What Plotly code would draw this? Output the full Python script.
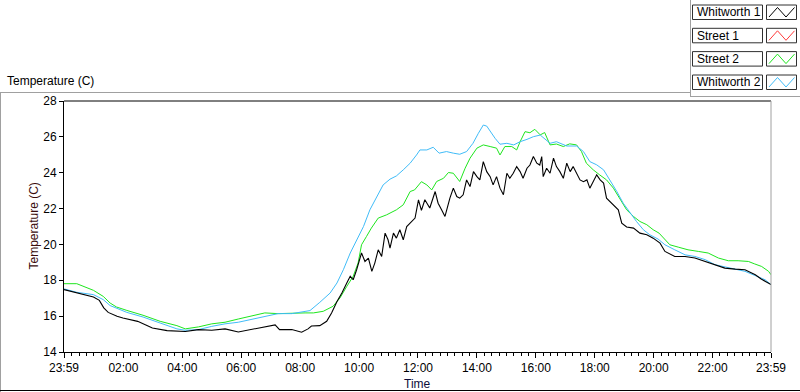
import plotly.graph_objects as go

# ---------------- data (minutes after 23:59 start, temperature in C) ----------------
w1_min = [0, 26, 60, 72, 81, 90, 108, 120, 150, 180, 210, 247, 274, 301, 328, 355, 382, 409, 430, 439,
          464, 484, 497, 504, 521, 535, 545, 556, 566, 576, 583, 589, 596, 606, 613, 620, 627, 633, 640, 647,
          654, 660, 664, 671, 677, 684, 691, 698, 708, 715, 722, 728, 735, 745, 756, 762, 769, 776, 786, 793,
          800, 806, 813, 820, 827, 834, 841, 847, 854, 861, 868, 874, 881, 888, 895, 902, 908, 915, 922, 929,
          935, 943, 949, 956, 963, 969, 973, 976, 983, 990, 997, 1003, 1010, 1017, 1024, 1031, 1037, 1044, 1051, 1058,
          1065, 1071, 1078, 1085, 1092, 1099, 1105, 1119, 1129, 1136, 1146, 1160, 1173, 1187, 1200, 1214, 1224, 1244, 1265, 1285,
          1306, 1326, 1346, 1367, 1387, 1408, 1420, 1440]
w1_temp = [17.48, 17.29, 17.07, 16.88, 16.46, 16.21, 15.99, 15.90, 15.71, 15.34, 15.19, 15.14, 15.25, 15.21, 15.29, 15.12, 15.25, 15.38, 15.51, 15.25,
           15.25, 15.10, 15.29, 15.45, 15.47, 15.71, 16.18, 16.82, 17.29, 17.85, 18.22, 18.03, 18.59, 19.52, 19.05, 19.24, 18.50, 18.96, 19.70, 19.33,
           20.63, 20.26, 19.80, 20.63, 20.35, 20.82, 20.26, 21.00, 21.28, 21.47, 22.49, 21.90, 22.49, 22.03, 22.95, 22.30, 21.93, 21.56, 22.58, 23.14,
           22.67, 22.58, 22.77, 23.60, 23.23, 24.06, 23.78, 23.60, 24.62, 24.06, 23.78, 23.32, 23.78, 23.14, 22.77, 23.97, 23.69, 23.97, 24.34, 24.06,
           23.69, 24.25, 24.43, 24.90, 24.53, 24.43, 24.90, 23.78, 24.25, 23.97, 24.81, 24.34, 24.06, 23.69, 24.53, 24.06, 24.34, 23.97, 23.60, 23.50,
           23.60, 23.14, 23.50, 23.88, 23.60, 23.42, 22.58, 22.21, 21.93, 21.19, 20.97, 20.91, 20.63, 20.54, 20.35, 20.07, 19.61, 19.33, 19.33, 19.24,
           19.05, 18.87, 18.68, 18.62, 18.59, 18.31, 18.07, 17.76]

s1_min = []
s1_temp = []

s2_min = [0, 26, 60, 80, 94, 107, 128, 161, 196, 230, 247, 274, 301, 328, 355, 382, 409, 436, 464, 491,
          508, 528, 548, 562, 576, 589, 599, 606, 616, 626, 640, 657, 677, 691, 705, 714, 728, 739, 749, 759,
          773, 783, 793, 806, 817, 827, 841, 854, 868, 881, 888, 898, 912, 922, 929, 939, 949, 959, 970, 979,
          990, 1003, 1017, 1030, 1044, 1054, 1064, 1078, 1091, 1105, 1119, 1133, 1146, 1160, 1173, 1187, 1200, 1212, 1224, 1234,
          1251, 1271, 1292, 1312, 1333, 1353, 1373, 1394, 1406, 1421, 1435, 1440]
s2_temp = [17.81, 17.81, 17.44, 17.10, 16.73, 16.51, 16.32, 16.05, 15.71, 15.47, 15.29, 15.40, 15.57, 15.66, 15.84, 16.03, 16.18, 16.14, 16.18, 16.18,
           16.18, 16.27, 16.55, 17.01, 17.66, 18.22, 18.96, 19.98, 20.44, 20.91, 21.47, 21.65, 21.93, 22.21, 22.95, 23.04, 23.50, 23.32, 23.04, 23.51,
           23.69, 24.01, 23.97, 23.51, 24.25, 24.81, 25.37, 25.55, 25.46, 25.37, 24.99, 25.46, 25.46, 25.27, 25.73, 26.29, 26.23, 26.42, 26.11, 26.24,
           25.55, 25.60, 25.46, 25.61, 25.55, 25.18, 24.53, 24.16, 23.88, 23.60, 23.14, 22.49, 21.93, 21.56, 21.28, 21.10, 20.82, 20.63, 20.26, 19.98,
           19.85, 19.70, 19.61, 19.52, 19.24, 19.09, 19.09, 19.05, 18.92, 18.77, 18.50, 18.31]

w2_min = [0, 26, 60, 80, 94, 114, 128, 161, 196, 230, 247, 274, 301, 328, 355, 382, 409, 436, 464, 481,
          501, 521, 542, 556, 569, 583, 596, 610, 623, 637, 650, 664, 677, 691, 705, 718, 725, 739, 752, 764,
          779, 793, 806, 820, 833, 844, 854, 861, 868, 878, 888, 902, 916, 929, 943, 956, 970, 990, 1003, 1024,
          1044, 1058, 1071, 1085, 1099, 1112, 1126, 1139, 1153, 1166, 1180, 1193, 1210, 1224, 1244, 1265, 1285, 1306, 1326, 1346,
          1367, 1387, 1408, 1428, 1440]
w2_temp = [17.52, 17.33, 17.20, 16.92, 16.59, 16.36, 16.21, 15.95, 15.62, 15.29, 15.21, 15.25, 15.43, 15.57, 15.66, 15.81, 15.99, 16.14, 16.14, 16.21,
           16.31, 16.77, 17.29, 17.85, 18.59, 19.52, 20.26, 21.00, 21.93, 22.67, 23.32, 23.64, 23.82, 24.16, 24.53, 24.99, 25.27, 25.27, 25.42, 25.09,
           25.18, 25.09, 25.03, 25.18, 25.64, 26.20, 26.66, 26.60, 26.29, 25.92, 25.59, 25.64, 25.55, 25.73, 25.86, 26.01, 26.10, 25.64, 25.73, 25.49,
           25.49, 25.18, 24.62, 24.44, 24.16, 23.60, 22.95, 22.30, 21.75, 21.28, 20.82, 20.54, 20.30, 19.98, 19.70, 19.42, 19.33, 19.15, 18.87, 18.74,
           18.59, 18.50, 18.26, 18.03, 17.76]

tick_minutes = [0, 121, 241, 361, 481, 601, 721, 841, 961, 1081, 1201, 1321, 1440]
tick_labels = ["23:59", "02:00", "04:00", "06:00", "08:00", "10:00", "12:00",
               "14:00", "16:00", "18:00", "20:00", "22:00", "23:59"]
y_ticks = [14, 16, 18, 20, 22, 24, 26, 28]

legend_names = ["Whitworth 1", "Street 1", "Street 2", "Whitworth 2"]
legend_colors = ["#000000", "#ff3a3a", "#1ee61e", "#40bcf8"]

# ---------------- figure ----------------
FONT = "Liberation Sans, Arial, sans-serif"
L, R, T, B = 64, 771, 101, 352
W, H = 800, 392


def xp(px):
    return (px - L) / (R - L)


def yp(py):
    return (B - py) / (B - T)


series = [(w1_min, w1_temp), (s1_min, s1_temp), (s2_min, s2_temp), (w2_min, w2_temp)]
fig = go.Figure()
for idx in [2, 3, 1, 0]:
    mins, temps = series[idx]
    fig.add_trace(go.Scatter(
        x=[m / 60 for m in mins], y=temps, mode="lines",
        name=legend_names[idx],
        line=dict(color=legend_colors[idx], width=1.1 if idx == 0 else 1),
        showlegend=False, hoverinfo="skip"))

fig.update_layout(
    width=W, height=H,
    margin=dict(l=L, r=W - R, t=T, b=H - B),
    paper_bgcolor="white", plot_bgcolor="white",
    font=dict(family=FONT, size=12, color="#000000"),
    showlegend=False,
    xaxis=dict(
        range=[0, 24], showgrid=False, zeroline=False,
        tickmode="array", tickvals=[m / 60 for m in tick_minutes], ticktext=tick_labels,
        ticks="outside", ticklen=5, tickwidth=1, tickcolor="#000000",
        showline=True, linecolor="#000000", linewidth=1,
        tickfont=dict(family=FONT, size=12, color="#000000"),
        minor=dict(ticks="outside", ticklen=3, tickwidth=1, tickcolor="#000000",
                   tick0=1 / 60, dtick=0.25, showgrid=False),
        fixedrange=True,
    ),
    yaxis=dict(
        range=[14, 28], showgrid=False, zeroline=False,
        tickmode="array", tickvals=y_ticks, ticktext=[str(v) for v in y_ticks],
        ticks="outside", ticklen=4, tickwidth=1, tickcolor="#000000",
        showline=True, linecolor="#000000", linewidth=1,
        tickfont=dict(family=FONT, size=12, color="#000000"),
        fixedrange=True,
    ),
)

shapes = []
shapes.append(dict(type="line", xref="paper", yref="paper", x0=0, x1=1, y0=1, y1=1,
                   line=dict(color="#000000", width=1)))
shapes.append(dict(type="line", xref="paper", yref="paper", x0=1, x1=1, y0=0, y1=1,
                   line=dict(color="#a0a0a0", width=1)))
shapes.append(dict(type="line", xref="paper", yref="paper", x0=xp(0), x1=xp(690), y0=yp(92.5), y1=yp(92.5),
                   line=dict(color="#a0a0a0", width=1)))
shapes.append(dict(type="line", xref="paper", yref="paper", x0=xp(690.5), x1=xp(690.5), y0=yp(0), y1=yp(96.5),
                   line=dict(color="#a0a0a0", width=1)))
shapes.append(dict(type="line", xref="paper", yref="paper", x0=xp(690), x1=xp(800), y0=yp(96.5), y1=yp(96.5),
                   line=dict(color="#a0a0a0", width=1)))
shapes.append(dict(type="line", xref="paper", yref="paper", x0=xp(0.5), x1=xp(0.5), y0=yp(92.5), y1=yp(392),
                   line=dict(color="#a0a0a0", width=1)))
shapes.append(dict(type="line", xref="paper", yref="paper", x0=xp(0), x1=xp(800), y0=yp(390.5), y1=yp(390.5),
                   line=dict(color="#000000", width=1)))

annotations = []
row_tops = [5, 28.3, 51.6, 75]
rh = 14.5
for name, col, top in zip(legend_names, legend_colors, row_tops):
    bot = top + rh
    shapes.append(dict(type="rect", xref="paper", yref="paper",
                       x0=xp(692.5), x1=xp(762.5), y0=yp(bot), y1=yp(top),
                       line=dict(color="#303030", width=1), fillcolor="white"))
    shapes.append(dict(type="rect", xref="paper", yref="paper",
                       x0=xp(766.5), x1=xp(796.5), y0=yp(bot), y1=yp(top),
                       line=dict(color="#303030", width=1), fillcolor="white"))
    pts = [(769, bot - 2.5), (777.5, top + 2.5), (786, bot - 2.5), (794.5, top + 2.5)]
    path = "M " + " L ".join(f"{xp(a):.5f},{yp(b):.5f}" for a, b in pts)
    shapes.append(dict(type="path", xref="paper", yref="paper", path=path,
                       line=dict(color=col, width=1)))
    annotations.append(dict(text=name, xref="paper", yref="paper", x=xp(695), y=yp(top + rh / 2),
                            xanchor="left", yanchor="middle", showarrow=False,
                            font=dict(family=FONT, size=12, color="#000000")))

annotations.append(dict(text="Temperature (C)", xref="paper", yref="paper", x=xp(5), y=yp(81),
                        xanchor="left", yanchor="middle", showarrow=False,
                        font=dict(family=FONT, size=12, color="#000000")))
annotations.append(dict(text="Temperature (C)", xref="paper", yref="paper", x=xp(33), y=yp(226.5),
                        xanchor="center", yanchor="middle", showarrow=False, textangle=-90,
                        font=dict(family=FONT, size=12, color="#3a0c0c")))
annotations.append(dict(text="Time", xref="paper", yref="paper", x=xp(417.5), y=yp(384),
                        xanchor="center", yanchor="middle", showarrow=False,
                        font=dict(family=FONT, size=12, color="#0c0c3a")))

fig.update_layout(shapes=shapes, annotations=annotations)
fig.write_html("out.html", config={"displayModeBar": False},
               post_script="document.body.style.margin='0';document.body.style.padding='0';")
